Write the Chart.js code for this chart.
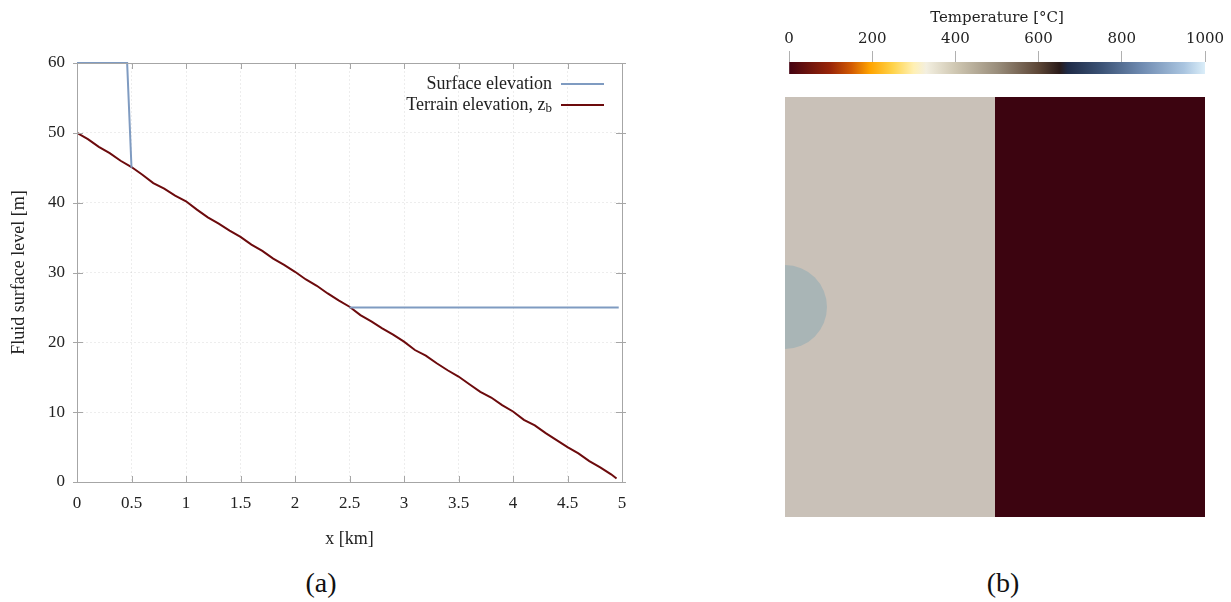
<!DOCTYPE html>
<html>
<head>
<meta charset="utf-8">
<script src="https://cdn.jsdelivr.net/npm/chart.js@4/dist/chart.umd.min.js"></script>
<style>
  html, body { margin: 0; padding: 0; background: #fff; }
  body { width: 1231px; height: 602px; position: relative; overflow: hidden; }
  canvas { position: absolute; }
  #profileChart { left: 0; top: 0; }
  #colorbarChart { left: 770px; top: 0; }
  #fieldChart { left: 770px; top: 90px; }
  .panel-label { position: absolute; top: 567px; font: 28px "Liberation Serif", serif; color: #111; transform: translateX(-50%); }
</style>
</head>
<body>
<canvas id="profileChart" width="640" height="560"></canvas>
<canvas id="colorbarChart" width="461" height="90"></canvas>
<canvas id="fieldChart" width="461" height="440"></canvas>
<div class="panel-label" style="left:321px">(a)</div>
<div class="panel-label" style="left:1003px">(b)</div>
<script>
// panel (a): elevation profiles, x in km, levels in m
const terrainX = [0, 0.1, 0.2, 0.3, 0.4, 0.5, 0.6, 0.7, 0.8, 0.9, 1.0, 1.1, 1.2, 1.3, 1.4, 1.5, 1.6, 1.7, 1.8, 1.9,
  2.0, 2.1, 2.2, 2.3, 2.4, 2.5, 2.6, 2.7, 2.8, 2.9, 3.0, 3.1, 3.2, 3.3, 3.4, 3.5, 3.6, 3.7, 3.8, 3.9,
  4.0, 4.1, 4.2, 4.3, 4.4, 4.5, 4.6, 4.7, 4.8, 4.9, 4.95];
const terrainZ = [50.0, 49.1, 48.0, 47.1, 46.0, 45.1, 44.0, 42.8, 42.0, 41.0, 40.2, 39.0, 37.9, 37.0, 36.0, 35.1, 34.0, 33.1, 32.0, 31.1,
  30.1, 29.0, 28.1, 27.0, 26.0, 25.1, 23.9, 23.0, 22.0, 21.1, 20.1, 18.9, 18.1, 17.0, 16.0, 15.1, 14.0, 12.9, 12.1, 11.0,
  10.1, 8.9, 8.1, 7.0, 6.0, 5.0, 4.1, 3.0, 2.1, 1.1, 0.5];
const surfaceX = [0, 0.46, 0.5, 1.5, 2.5, 4.97];
const surfaceZ = [60, 60, 45, null, 25, 25];

// panel (b): colour map and field
const colorbarTicks = [0, 200, 400, 600, 800, 1000];
const cmapTemps = [0, 100, 150, 195, 250, 300, 330, 400, 500, 600, 650, 670, 750, 850, 950, 1000];
const cmapColors = ['#440312', '#9a2608', '#d25a02', '#ffa400', '#ffd34a', '#fff0b4', '#f3efe0', '#cfc7b2',
  '#9a8e7c', '#5c4636', '#2a1b19', '#1f2b47', '#3b5275', '#708cb2', '#aac5e0', '#dbeef9'];
const fieldSplitX = 0.5;
const fieldColdColor = '#c9c1b8';
const fieldHotColor = '#3c0410';
const cylinder = { x: 0, y: 0.5, r: 42 };

const serif = '"Liberation Serif", serif';
const tickFont = { family: serif, size: 17 };
const titleFont = { family: serif, size: 18 };

function toPoints(xs, ys) {
  return xs.map((x, i) => ({ x, y: ys[i] }));
}

// box round the plot area, with small ticks on all four sides
const frame = {
  id: 'frame',
  afterDraw(chart) {
    const { ctx, chartArea: a, scales } = chart;
    ctx.save();
    ctx.strokeStyle = '#a6a6a6';
    ctx.lineWidth = 1;
    ctx.strokeRect(a.left + 0.5, a.top + 0.5, a.right - a.left, a.bottom - a.top);
    ctx.beginPath();
    scales.x.ticks.forEach(t => {
      const px = Math.round(scales.x.getPixelForValue(t.value)) + 0.5;
      ctx.moveTo(px, a.bottom); ctx.lineTo(px, a.bottom - 6);
      ctx.moveTo(px, a.top); ctx.lineTo(px, a.top + 6);
    });
    scales.y.ticks.forEach(t => {
      const py = Math.round(scales.y.getPixelForValue(t.value)) + 0.5;
      ctx.moveTo(a.left - 4, py); ctx.lineTo(a.left + 6, py);
      ctx.moveTo(a.right + 4, py); ctx.lineTo(a.right - 6, py);
    });
    ctx.stroke();
    ctx.restore();
  },
};

// legend drawn inside the plot, text right-aligned, sample line on the right
const insideLegend = {
  id: 'insideLegend',
  afterDatasetsDraw(chart) {
    const { ctx, chartArea: a } = chart;
    ctx.save();
    ctx.textBaseline = 'middle';
    ctx.textAlign = 'right';
    chart.data.datasets.forEach((ds, i) => {
      const y = a.top + 21 + i * 21;
      const lineLeft = a.right - 61;
      ctx.strokeStyle = ds.borderColor;
      ctx.lineWidth = 2;
      ctx.beginPath();
      ctx.moveTo(lineLeft, y);
      ctx.lineTo(a.right - 18, y);
      ctx.stroke();
      const [main, sub] = ds.label.split('_');
      let right = lineLeft - 9;
      ctx.fillStyle = '#222';
      if (sub) {
        ctx.font = '13px ' + serif;
        ctx.fillText(sub, right, y + 4);
        right -= ctx.measureText(sub).width;
      }
      ctx.font = '18px ' + serif;
      ctx.fillText(main, right, y);
    });
    ctx.restore();
  },
};

new Chart(document.getElementById('profileChart'), {
  type: 'line',
  data: {
    datasets: [
      {
        label: 'Surface elevation',
        data: toPoints(surfaceX, surfaceZ),
        borderColor: '#7f9bc1',
        borderWidth: 2,
        pointRadius: 0,
        spanGaps: false,
        clip: 4,
      },
      {
        label: 'Terrain elevation, z_b',
        data: toPoints(terrainX, terrainZ),
        borderColor: '#6c0a0c',
        borderWidth: 2,
        pointRadius: 0,
      },
    ],
  },
  options: {
    responsive: false,
    animation: false,
    layout: { padding: { top: 63, right: 18, left: 0, bottom: 0 } },
    plugins: { legend: { display: false }, tooltip: { enabled: false } },
    scales: {
      x: {
        type: 'linear',
        min: 0,
        max: 5,
        afterFit: scale => { scale.height = 78; },
        ticks: { stepSize: 0.5, font: tickFont, color: '#222', padding: 11, maxRotation: 0, callback: value => String(value) },
        grid: { color: 'rgba(0,0,0,0.07)', drawTicks: false },
        border: { color: '#a6a6a6', dash: [2, 2] },
        title: { display: true, text: 'x [km]', font: titleFont, color: '#222', padding: { top: 10, bottom: 10 } },
      },
      y: {
        min: 0,
        max: 60,
        afterFit: scale => { scale.width = 77; },
        ticks: { stepSize: 10, font: tickFont, color: '#222', padding: 12, callback: value => String(value) },
        grid: { color: 'rgba(0,0,0,0.07)', drawTicks: false },
        border: { color: '#a6a6a6', dash: [2, 2] },
        title: { display: true, text: 'Fluid surface level [m]', font: titleFont, color: '#222', padding: { top: 8, bottom: 8 } },
      },
    },
  },
  plugins: [frame, insideLegend],
});

// colour bar: one floating bar over the whole temperature range
new Chart(document.getElementById('colorbarChart'), {
  type: 'bar',
  data: {
    labels: ['T'],
    datasets: [{
      data: [[colorbarTicks[0], colorbarTicks[colorbarTicks.length - 1]]],
      barPercentage: 1,
      categoryPercentage: 1,
      backgroundColor: context => {
        const { chart } = context;
        const xScale = chart.scales.x;
        if (!chart.chartArea || !xScale) return cmapColors[0];
        const left = xScale.getPixelForValue(cmapTemps[0]);
        const right = xScale.getPixelForValue(cmapTemps[cmapTemps.length - 1]);
        const gradient = chart.ctx.createLinearGradient(left, 0, right, 0);
        cmapTemps.forEach((t, i) => {
          gradient.addColorStop((xScale.getPixelForValue(t) - left) / (right - left), cmapColors[i]);
        });
        return gradient;
      },
    }],
  },
  options: {
    indexAxis: 'y',
    responsive: false,
    animation: false,
    layout: { padding: { top: 0, right: 26, left: 19, bottom: 16 } },
    plugins: { legend: { display: false }, tooltip: { enabled: false } },
    scales: {
      x: {
        type: 'linear',
        position: 'top',
        min: 0,
        max: 1000,
        afterFit: scale => { scale.height = 62; },
        afterBuildTicks: scale => { scale.ticks = colorbarTicks.map(value => ({ value })); },
        ticks: { font: { family: '"DejaVu Serif", serif', size: 15 }, color: '#222', padding: 3, maxRotation: 0, callback: value => String(value) },
        grid: { drawOnChartArea: false, drawTicks: true, tickLength: 11, color: '#b0b0b0' },
        border: { display: false },
        title: { display: true, text: 'Temperature [°C]', font: { family: '"DejaVu Serif", serif', size: 15 }, color: '#222', padding: { top: 9, bottom: 4 } },
      },
      y: { display: false },
    },
  },
});

// field: cold and hot halves with the cylinder on the left edge
new Chart(document.getElementById('fieldChart'), {
  type: 'scatter',
  data: {
    datasets: [
      {
        type: 'line',
        data: [{ x: 0, y: 1 }, { x: fieldSplitX, y: 1 }],
        fill: 'start',
        backgroundColor: fieldColdColor,
        borderWidth: 0,
        pointRadius: 0,
        order: 2,
      },
      {
        type: 'line',
        data: [{ x: fieldSplitX, y: 1 }, { x: 1, y: 1 }],
        fill: 'start',
        backgroundColor: fieldHotColor,
        borderWidth: 0,
        pointRadius: 0,
        order: 2,
      },
      {
        type: 'bubble',
        data: [cylinder],
        backgroundColor: '#a9b5b6',
        borderWidth: 0,
        clip: 0,
        order: 1,
      },
    ],
  },
  options: {
    responsive: false,
    animation: false,
    layout: { autoPadding: false, padding: { top: 7, right: 26, left: 15, bottom: 13 } },
    plugins: { legend: { display: false }, tooltip: { enabled: false } },
    scales: {
      x: { type: 'linear', min: 0, max: 1, display: false },
      y: { type: 'linear', min: 0, max: 1, display: false },
    },
  },
});
</script>
</body>
</html>
